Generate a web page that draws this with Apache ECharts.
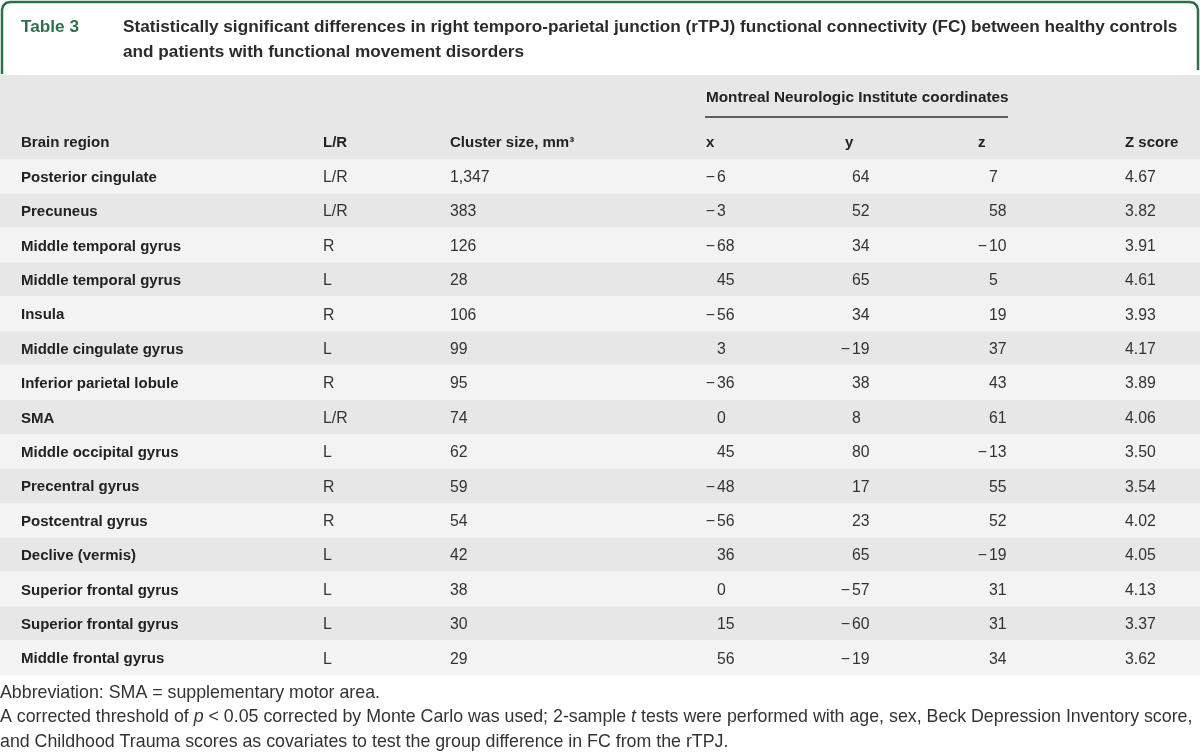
<!DOCTYPE html>
<html>
<head>
<meta charset="utf-8">
<script src="https://cdn.jsdelivr.net/npm/echarts@6/dist/echarts.min.js"></script>
<style>html,body{margin:0;padding:0;background:#fff}#c{width:1200px;height:755px}</style>
</head>
<body>
<div id="c"></div>
<script>
// ---- data ----
const tableLabel = 'Table 3';
const titleLines = [
  'Statistically significant differences in right temporo-parietal junction (rTPJ) functional connectivity (FC) between healthy controls',
  'and patients with functional movement disorders'
];
const spanHeader = 'Montreal Neurologic Institute coordinates';
const columnHeaders = ['Brain region', 'L/R', 'Cluster size, mm\u00B3', 'x', 'y', 'z', 'Z score'];
const regions = ['Posterior cingulate', 'Precuneus', 'Middle temporal gyrus', 'Middle temporal gyrus', 'Insula',
  'Middle cingulate gyrus', 'Inferior parietal lobule', 'SMA', 'Middle occipital gyrus', 'Precentral gyrus',
  'Postcentral gyrus', 'Declive (vermis)', 'Superior frontal gyrus', 'Superior frontal gyrus', 'Middle frontal gyrus'];
const sides = ['L/R', 'L/R', 'R', 'L', 'R', 'L', 'R', 'L/R', 'L', 'R', 'R', 'L', 'L', 'L', 'L'];
const clusterSizes = [1347, 383, 126, 28, 106, 99, 95, 74, 62, 59, 54, 42, 38, 30, 29];
const mniX = [-6, -3, -68, 45, -56, 3, -36, 0, 45, -48, -56, 36, 0, 15, 56];
const mniY = [64, 52, 34, 65, 34, -19, 38, 8, 80, 17, 23, 65, -57, -60, -19];
const mniZ = [7, 58, -10, 5, 19, 37, 43, 61, -13, 55, 52, -19, 31, 31, 34];
const zScores = [4.67, 3.82, 3.91, 4.61, 3.93, 4.17, 3.89, 4.06, 3.50, 3.54, 4.02, 4.05, 4.13, 3.37, 3.62];
const footnotes = [
  'Abbreviation: SMA = supplementary motor area.',
  'A corrected threshold of {i|p} < 0.05 corrected by Monte Carlo was used; 2-sample {i|t} tests were performed with age, sex, Beck Depression Inventory score,',
  'and Childhood Trauma scores as covariates to test the group difference in FC from the rTPJ.'
];

// ---- layout / style ----
const FONT = 'Liberation Sans';
const GREEN = '#2f6f4c';
const GRAY = '#e6e7e6';
const LIGHT = '#f3f3f3';
const colX = [21, 323, 450, 717, 852, 989, 1125];   // column anchors (axis units = px)
const headerX = [21, 323, 450, 706, 845, 978, 1125];
const TABLE_TOP = 159, ROW_H = 34.4;
const FOOT_SIZE = 17.8;
const TITLE_SIZE = 17.2;

const chart = echarts.init(document.getElementById('c'), null, {renderer: 'canvas'});

function numText(v) { return String(Math.abs(v)); }

const rowData = regions.map((r, i) => [i, clusterSizes[i], mniX[i], mniY[i], mniZ[i], zScores[i]]);

const graphics = [
  // title box border
  {type: 'polyline', shape: {points: [[2, 74], [2, 10], [3, 6], [6, 3], [10, 2], [1190, 2], [1194, 3], [1197, 6], [1198, 10], [1198, 70]]},
   style: {stroke: GREEN, lineWidth: 2.5, fill: null}},
  {type: 'text', left: 21, top: 19, style: {text: tableLabel, font: 'bold ' + TITLE_SIZE + 'px "' + FONT + '"', fill: GREEN}},
  {type: 'text', left: 123, top: 19, style: {text: titleLines[0], font: 'bold ' + TITLE_SIZE + 'px "' + FONT + '"', fill: '#2b2b2b'}},
  {type: 'text', left: 123, top: 44, style: {text: titleLines[1], font: 'bold ' + TITLE_SIZE + 'px "' + FONT + '"', fill: '#2b2b2b'}},
  // header background
  {type: 'rect', shape: {x: 0, y: 75, width: 1200, height: TABLE_TOP - 75}, style: {fill: GRAY}, z: -1},
  {type: 'text', left: 706, top: 90, style: {text: spanHeader, font: 'bold 15.3px "' + FONT + '"', fill: '#222'}},
  {type: 'line', shape: {x1: 705, y1: 117, x2: 1008, y2: 117}, style: {stroke: '#333', lineWidth: 1.5}}
];
columnHeaders.forEach((h, k) => {
  graphics.push({type: 'text', left: headerX[k], top: 135,
    style: {text: h, font: 'bold 15px "' + FONT + '"', fill: '#222'}});
});
footnotes.forEach((t, k) => {
  graphics.push({type: 'text', left: 0, top: 684 + k * 24.5,
    style: {text: t, font: FOOT_SIZE + 'px "' + FONT + '"', fill: '#333',
      rich: {i: {fontStyle: 'italic', fontFamily: FONT, fontSize: FOOT_SIZE, fill: '#333'}}}});
});

const option = {
  backgroundColor: '#fff',
  animation: false,
  grid: {left: 0, right: 0, top: TABLE_TOP, height: ROW_H * regions.length},
  xAxis: {type: 'value', min: 0, max: 1200, show: false},
  yAxis: {type: 'category', data: regions.map((r, i) => i), inverse: true, show: false},
  graphic: graphics,
  series: [{
    type: 'custom',
    data: rowData,
    encode: {x: -1, y: 0},
    renderItem: function (params, api) {
      const i = api.value(0);
      const cs = params.coordSys;
      const bandH = api.size([0, 1])[1];
      const yc = api.coord([0, i])[1];
      const px = k => api.coord([colX[k], i])[0];
      const children = [{
        type: 'rect', shape: {x: cs.x, y: yc - bandH / 2, width: cs.width, height: bandH},
        style: {fill: i % 2 === 0 ? LIGHT : GRAY}
      }];
      const txt = (x, s, bold, align) => ({
        type: 'text', x: x, y: yc + 1.5,
        style: {text: s, font: (bold ? 'bold 15px ' : '15.8px ') + '"' + FONT + '"', fill: bold ? '#222' : '#333',
          textAlign: align || 'left', textVerticalAlign: 'middle'}
      });
      children.push(txt(px(0), regions[i], true));
      children.push(txt(px(1), sides[i], false));
      children.push(txt(px(2), api.value(1).toLocaleString('en-US'), false));
      [2, 3, 4].forEach((d, j) => {
        const v = api.value(d);
        const x = px(3 + j);
        children.push(txt(x, numText(v), false));
        if (v < 0) children.push(txt(x - 2, '\u2212', false, 'right'));
      });
      children.push(txt(px(6), api.value(5).toFixed(2), false));
      return {type: 'group', children: children};
    }
  }]
};
chart.setOption(option);
</script>
</body>
</html>
